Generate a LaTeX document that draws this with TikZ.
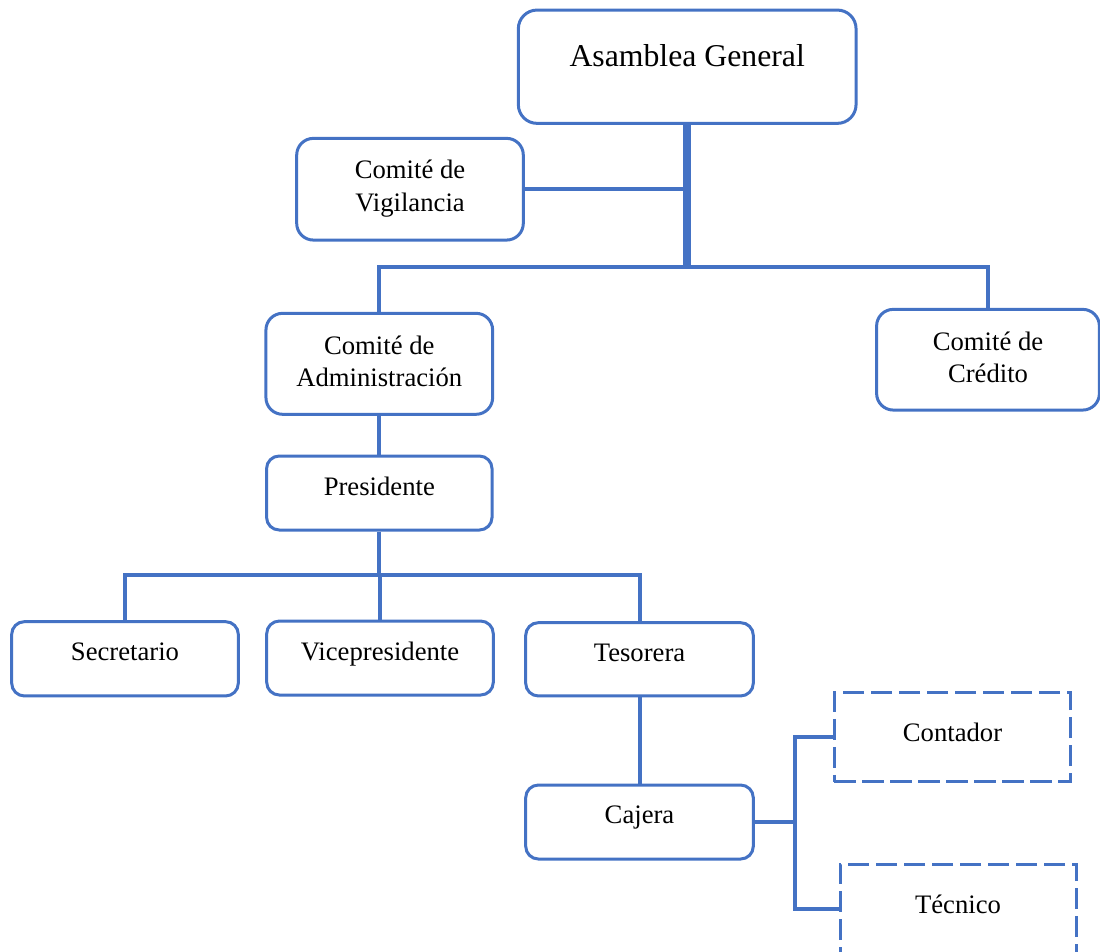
\documentclass[tikz,border=0pt]{standalone}
\usepackage{fontspec}
\setmainfont{Liberation Serif}
\newcommand{\tx}[2]{\raisebox{#1}[0pt][0pt]{#2}}
\newcommand{\two}[3]{\raisebox{#1}[0pt][0pt]{\begin{tabular}[b]{@{}c@{}}#2\\#3\end{tabular}}}
\definecolor{obl}{HTML}{4472C4}
\tikzset{
  bx/.style 2 args={minimum width=#1*0.75pt, minimum height=#2*0.75pt},
  box/.style={draw=obl, line width=2.25pt, fill=white, inner sep=0pt,
    font=\fontsize{20}{24.5}\selectfont},
  dbox/.style={box, dash pattern=on 16pt off 5pt},
  conn/.style={draw=obl, line width=3pt},
  trunk/.style={draw=obl, line width=5.6pt},
}
\begin{document}
\begin{tikzpicture}[x=0.75pt,y=-0.75pt]
\useasboundingbox (0,0) rectangle (1100,951);
\clip (0,0) rectangle (1100,951);
\coordinate (j1) at (687,266.7);
\coordinate (j2) at (380,575);
\coordinate (j3) at (795,822);
\node[box, bx={337.7}{113.3}, rounded corners=14pt, font=\fontsize{23.8}{28}\selectfont] (ag) at (687.2,66.7) {\tx{0pt}{Asamblea General}};
\node[box, bx={226.6}{101.7}, rounded corners=12.5pt] (vig) at (410,189.2) {\two{-16.5pt}{Comité de}{Vigilancia}};
\node[box, bx={226.7}{101}, rounded corners=12.5pt] (adm) at (379.3,363.8) {\two{-17.25pt}{Comité de}{Administración}};
\node[box, bx={222.8}{100.7}, rounded corners=12.5pt] (cred) at (988,359.7) {\two{-17.25pt}{Comité de}{Crédito}};
\node[box, bx={225.5}{74}, rounded corners=9.5pt] (pres) at (379.3,493) {\tx{-1.5pt}{Presidente}};
\node[box, bx={226.6}{74.3}, rounded corners=9.5pt] (sec) at (125,658.8) {\tx{-1.5pt}{Secretario}};
\node[box, bx={226.6}{74}, rounded corners=9.5pt] (vice) at (380,658) {\tx{-1.5pt}{Vicepresidente}};
\node[box, bx={227.6}{73.3}, rounded corners=9.5pt] (tes) at (639.5,659.3) {\tx{-1.5pt}{Tesorera}};
\node[box, bx={227.6}{74}, rounded corners=9.5pt] (caj) at (639.5,822) {\tx{-0.75pt}{Cajera}};
\node[dbox, bx={236.4}{89}] (cont) at (952.5,737.2) {\tx{-3.4pt}{Contador}};
\node[dbox, bx={236}{89}] (tec) at (958,908.5) {\tx{-3.4pt}{Técnico}};
% connectors
\draw[trunk] (ag.south) -- (ag.south |- j1);
\draw[conn] (vig.east) -- (vig.east -| ag.south);
\draw[conn] (adm.north) -- (adm.north |- j1) -- (cred.north |- j1) -- (cred.north);
\draw[conn] (adm.south) -- (pres.north);
\draw[conn] (pres.south) -- (pres.south |- j2);
\draw[conn] (sec.north) -- (sec.north |- j2) -- (tes.north |- j2) -- (tes.north);
\draw[conn] (vice.north) -- (vice.north |- j2);
\draw[conn] (tes.south) -- (caj.north);
\draw[conn] (caj.east) -- (caj.east -| j3);
\draw[conn] (cont.west) -- (cont.west -| j3) -- (tec.west -| j3) -- (tec.west);
\end{tikzpicture}
\end{document}
